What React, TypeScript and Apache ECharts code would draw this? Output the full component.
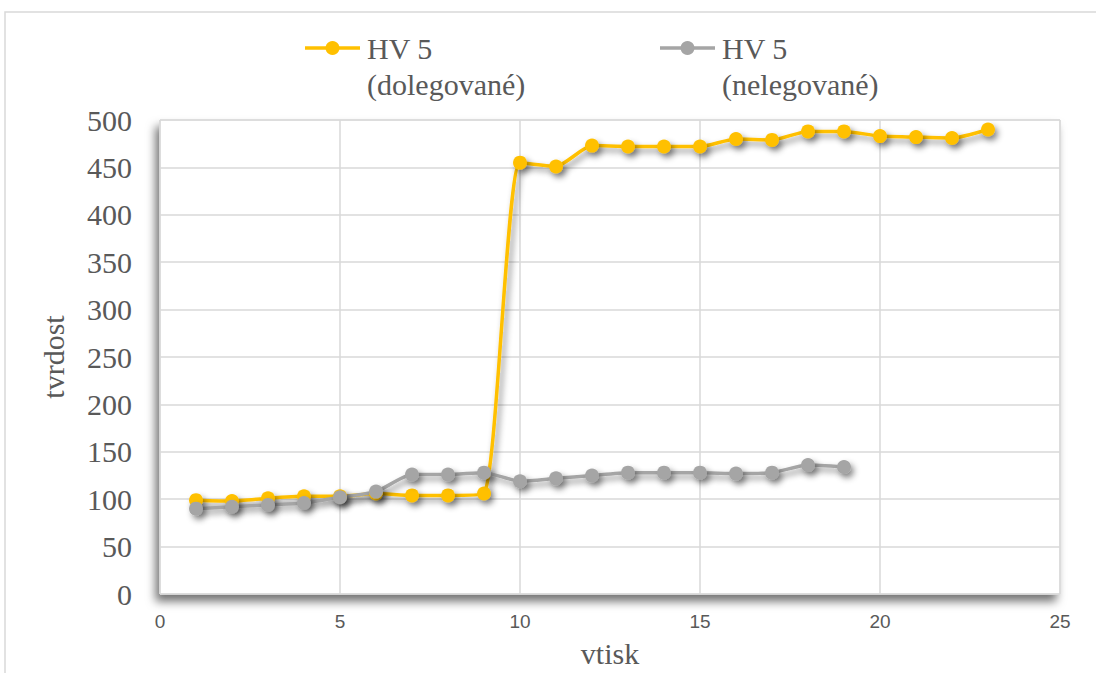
import React, { useEffect, useRef } from "react";
import * as echarts from "echarts";

const vtiskDolegovane = [1, 2, 3, 4, 5, 6, 7, 8, 9, 10, 11, 12, 13, 14, 15, 16, 17, 18, 19, 20, 21, 22, 23];
const hvDolegovane = [99, 98, 101, 103, 103, 106, 104, 104, 106, 455, 451, 473, 472, 472, 472, 480, 479, 488, 488, 483, 482, 481, 490];
const vtiskNelegovane = [1, 2, 3, 4, 5, 6, 7, 8, 9, 10, 11, 12, 13, 14, 15, 16, 17, 18, 19];
const hvNelegovane = [90, 92, 94, 96, 102, 108, 126, 126, 128, 119, 122, 125, 128, 128, 128, 127, 128, 136, 134];
const seriesNames = ["HV 5\n(dolegované)", "HV 5\n(nelegované)"];
const xTitle = "vtisk";
const yTitle = "tvrdost";

const YELLOW = "#FFC000";
const GRAY = "#A5A5A5";
const TEXT = "#595959";
const SERIF = "'Liberation Serif', 'Times New Roman', serif";

export default function App() {
  const ref = useRef<HTMLDivElement>(null);
  useEffect(() => {
    if (!ref.current) return;
    const chart = echarts.init(ref.current, undefined, { renderer: "svg" });
    const shadow = {
      shadowBlur: 6,
      shadowColor: "rgba(0,0,0,0.45)",
      shadowOffsetX: 3,
      shadowOffsetY: 4,
    };
    const mk = (name: string, xs: number[], ys: number[], color: string) => ({
      name,
      type: "line",
      data: xs.map((x, i) => [x, ys[i]]),
      smooth: 0.2,
      symbol: "circle",
      symbolSize: 14,
      lineStyle: { color, width: 3.5, ...shadow },
      itemStyle: { color, ...shadow },
    });
    const legendItem = (x: number, color: string, text: string) => ({
      type: "group",
      children: [
        { type: "line", shape: { x1: x, y1: 48, x2: x + 55, y2: 48 }, style: { stroke: color, lineWidth: 3.5 } },
        { type: "circle", shape: { cx: x + 27.5, cy: 48, r: 7 }, style: { fill: color } },
        {
          type: "text",
          x: x + 62,
          y: 30,
          style: {
            text,
            fill: TEXT,
            font: `30px ${SERIF}`,
            lineHeight: 36,
            verticalAlign: "top",
            align: "left",
          },
        },
      ],
    });
    chart.setOption({
      animation: false,
      backgroundColor: "#ffffff",
      graphic: [
        {
          type: "rect",
          shape: { x: 5, y: 12, width: 1200, height: 800 },
          style: { fill: "none", stroke: "#d9d9d9", lineWidth: 1.5 },
          z: -10,
        },
        legendItem(305, YELLOW, seriesNames[0]),
        legendItem(660, GRAY, seriesNames[1]),
      ],
      grid: {
        left: 160,
        right: 36,
        top: 120,
        bottom: 73,
        show: true,
        backgroundColor: "#ffffff",
        borderColor: "#d9d9d9",
        borderWidth: 1,
        shadowBlur: 10,
        shadowColor: "rgba(0,0,0,0.55)",
        shadowOffsetX: -4,
        shadowOffsetY: 7,
      },
      xAxis: {
        type: "value",
        min: 0,
        max: 25,
        interval: 5,
        name: xTitle,
        nameLocation: "middle",
        nameGap: 44,
        nameTextStyle: { fontFamily: SERIF, fontSize: 30, color: TEXT },
        axisLine: { show: false },
        axisTick: { show: false },
        axisLabel: { fontFamily: "'Liberation Sans Narrow', 'Liberation Sans', sans-serif", fontSize: 19, color: TEXT, margin: 18 },
        splitLine: { lineStyle: { color: "#d9d9d9", width: 1.5 } },
      },
      yAxis: {
        type: "value",
        min: 0,
        max: 500,
        interval: 50,
        name: yTitle,
        nameLocation: "middle",
        nameGap: 92,
        nameTextStyle: { fontFamily: SERIF, fontSize: 30, color: TEXT },
        axisLine: { show: false },
        axisTick: { show: false },
        axisLabel: { fontFamily: SERIF, fontSize: 30, color: TEXT, margin: 28 },
        splitLine: { lineStyle: { color: "#d9d9d9", width: 1.5 } },
      },
      series: [
        mk(seriesNames[0], vtiskDolegovane, hvDolegovane, YELLOW),
        mk(seriesNames[1], vtiskNelegovane, hvNelegovane, GRAY),
      ],
    });
    return () => chart.dispose();
  }, []);
  return (
    <div
      ref={ref}
      style={{ position: "fixed", left: 0, top: 0, width: 1096, height: 673 }}
    />
  );
}
